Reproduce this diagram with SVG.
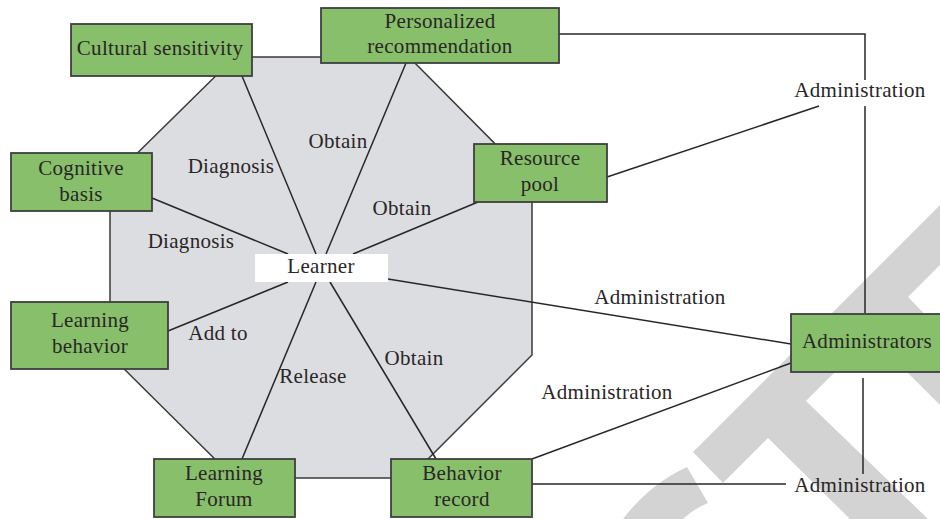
<svg xmlns="http://www.w3.org/2000/svg" width="940" height="519" viewBox="0 0 940 519">
<style>
.t{font-family:"Liberation Serif","Times New Roman",serif;font-size:21px;letter-spacing:.3px;fill:#2a2627;text-anchor:middle}
.b{fill:#87bf6a;stroke:#3f3f3f;stroke-width:1.8}
.l{fill:none;stroke:#2a2627;stroke-width:1.5}
</style>
<rect width="940" height="519" fill="#fff"/>
<g id="background">
<path fill="#d3d3d3" d="M940 205L693 452L723 483L768 438L850 519L928 519L806 401L871 336L940 405L940 330L908 297L940 265Z"/>
<path fill="#d3d3d3" d="M623 519Q650 484 687 467L708 503Q695 508 683 519Z"/>
<polygon fill="#dcdde0" stroke="#3a3a3a" stroke-width="1.5" points="235,57 409,57 532,181 532,355 409,478 234,478 110,355 110,180"/>
</g>
<g id="connectors">
<path class="l" d="M242 76L316 254"/>
<path class="l" d="M406 63L326 254"/>
<path class="l" d="M152 198L288 254"/>
<path class="l" d="M478 202L353 254"/>
<path class="l" d="M168 331L288 282"/>
<path class="l" d="M242 459L316 282"/>
<path class="l" d="M436 459L330 282"/>
<path class="l" d="M388 279L791 344"/>
<path class="l" d="M791 363L532 459"/>
<path class="l" d="M559 34H865V80"/>
<path class="l" d="M865 106V313"/>
<path class="l" d="M607 177L819 106"/>
<path class="l" d="M863 378V474"/>
<path class="l" d="M532 484H786"/>
</g>
<g id="learner"><rect x="255" y="254" width="133" height="28" fill="#fff"/><text class="t" x="321" y="273">Learner</text></g>
<g id="cultural-sensitivity"><rect class="b" x="71" y="24" width="181" height="52"/><text class="t" x="160" y="55">Cultural sensitivity</text></g>
<g id="personalized-recommendation"><rect class="b" x="321" y="8" width="238" height="55"/><text class="t" x="440" y="28">Personalized</text><text class="t" x="440" y="53">recommendation</text></g>
<g id="cognitive-basis"><rect class="b" x="11" y="153" width="141" height="58"/><text class="t" x="81" y="175">Cognitive</text><text class="t" x="81" y="201">basis</text></g>
<g id="resource-pool"><rect class="b" x="474" y="144" width="133" height="58"/><text class="t" x="540" y="165">Resource</text><text class="t" x="540" y="191">pool</text></g>
<g id="learning-behavior"><rect class="b" x="11" y="302" width="157" height="67"/><text class="t" x="90" y="327">Learning</text><text class="t" x="90" y="353">behavior</text></g>
<g id="learning-forum"><rect class="b" x="154" y="459" width="141" height="58"/><text class="t" x="224" y="480">Learning</text><text class="t" x="224" y="506">Forum</text></g>
<g id="behavior-record"><rect class="b" x="391" y="459" width="141" height="58"/><text class="t" x="462" y="480">Behavior</text><text class="t" x="462" y="506">record</text></g>
<g id="administrators"><rect class="b" x="791" y="314" width="155" height="58"/><text class="t" x="867" y="348">Administrators</text></g>
<g id="labels">
<text class="t" x="338" y="148">Obtain</text>
<text class="t" x="231" y="173">Diagnosis</text>
<text class="t" x="191" y="248">Diagnosis</text>
<text class="t" x="402" y="215">Obtain</text>
<text class="t" x="218" y="340">Add to</text>
<text class="t" x="313" y="383">Release</text>
<text class="t" x="414" y="365">Obtain</text>
<text class="t" x="860" y="97">Administration</text>
<text class="t" x="660" y="304">Administration</text>
<text class="t" x="607" y="399">Administration</text>
<text class="t" x="860" y="492">Administration</text>
</g>
</svg>
